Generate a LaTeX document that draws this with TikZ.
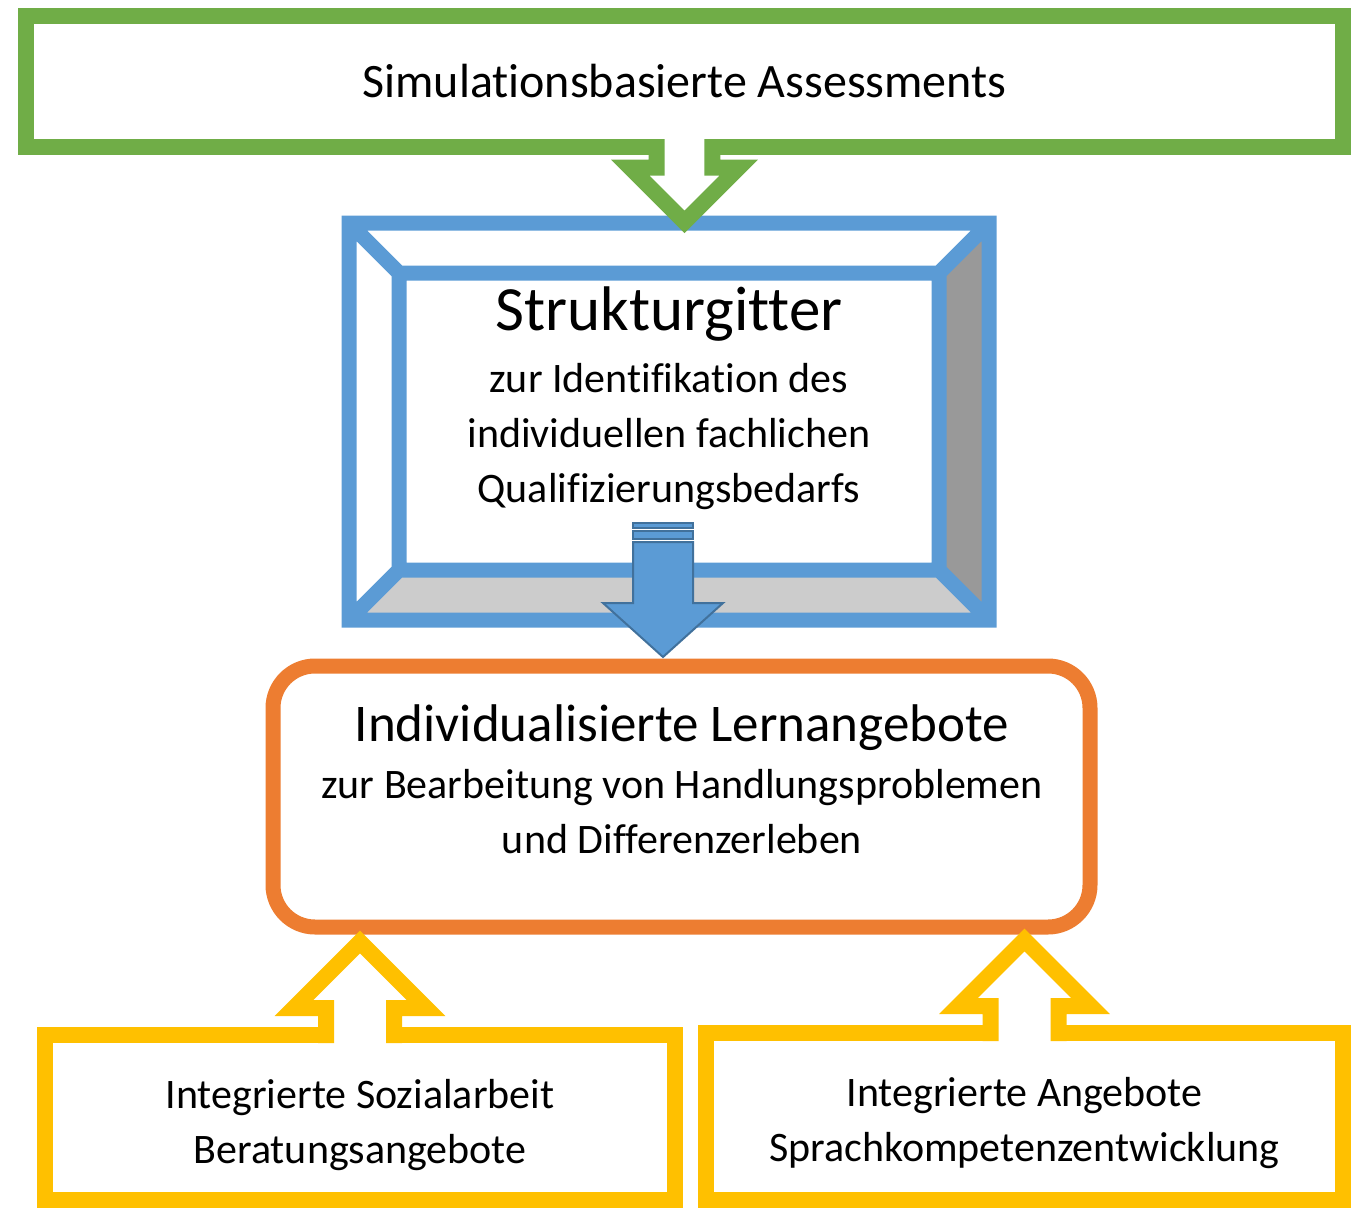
\documentclass[tikz,border=0pt]{standalone}
\usepackage{fontspec}
\setmainfont{Carlito}[Ligatures=NoCommon]
\usepackage{tikz}
\usetikzlibrary{calc}
\definecolor{assessGreen}{HTML}{70AD47}
\definecolor{gridBlue}{HTML}{5B9BD5}
\definecolor{gridEdge}{HTML}{41719C}
\definecolor{lernOrange}{HTML}{ED7D31}
\definecolor{offerYellow}{HTML}{FFC000}
\definecolor{bevelDark}{HTML}{999999}
\definecolor{bevelLight}{HTML}{CCCCCC}
\newcommand{\hollowArrow}[4]{%
	\begin{scope}[shift={(#1)},xscale=#2,yscale=#3]
		\fill[white] (-34,0) -- (-34,-35) -- (-66,-35) -- (0,-101) -- (66,-35) -- (34,-35) -- (34,0) -- cycle;
		\draw[#4,line width=16pt] (-34,0) -- (-34,-35) -- (-66,-35) -- (0,-101) -- (66,-35) -- (34,-35) -- (34,0);
	\end{scope}}

\begin{document}
\begin{tikzpicture}[x=1pt,y=-1pt,
		box/.style={draw,line width=16pt,outer sep=0pt,inner sep=0pt,fill=white},
		body/.style={align=center,font=\fontsize{42}{55}\selectfont},
		stripe/.style={fill=gridBlue,draw=gridEdge,line width=2pt}]
	\useasboundingbox (0,0) rectangle (1358,1208);
	\node[box,draw=assessGreen,minimum width=1317pt,minimum height=131pt,font=\fontsize{48}{58}\selectfont] (assess) at (684.5,81.5) {Simulationsbasierte Assessments};
	\node[minimum width=640pt,minimum height=397pt,inner sep=0pt,outer sep=0pt] (grid) at (669,421.5) {};
	\path (grid.north west) ++(50,50) coordinate (inw)
		(grid.north east) ++(-50,50) coordinate (ine)
		(grid.south east) ++(-50,-50) coordinate (ise)
		(grid.south west) ++(50,-50) coordinate (isw);
	\fill[bevelDark] (grid.north east) -- (grid.south east) -- (ise) -- (ine) -- cycle;
	\fill[bevelLight] (grid.south west) -- (grid.south east) -- (ise) -- (isw) -- cycle;
	\draw[gridBlue,line width=15pt] (grid.north west) rectangle (grid.south east) (inw) rectangle (ise)
		(grid.north west) -- (inw) (grid.north east) -- (ine) (grid.south east) -- (ise) (grid.south west) -- (isw);
	\node[font=\fontsize{63}{70}\selectfont] (gridTitle) at (669,314) {Strukturgitter};
	\node[body] (gridText) at (669,437) {zur Identifikation des\\individuellen fachlichen\\Qualifizierungsbedarfs};
	\hollowArrow{$(assess.south)+(0,-8)$}{0.82}{-0.82}{assessGreen}
	\node[box,draw=lernOrange,line width=15pt,rounded corners=42pt,minimum width=817pt,minimum height=261pt] (lernen) at (681.5,796.5) {};
	\node[font=\fontsize{53}{60}\selectfont] (lernTitle) at (682,728) {Individualisierte Lernangebote};
	\node[body] (lernText) at (682,812) {zur Bearbeitung von Handlungsproblemen\\und Differenzerleben};
	\coordinate (tip) at ($(lernen.north)+(-18.5,-9)$);
	\begin{scope}[shift={(tip)}]
		\filldraw[stripe] (-30,-134) rectangle (30,-129);
		\filldraw[stripe] (-30,-126) rectangle (30,-118);
		\filldraw[stripe] (-30,-115) -- (-30,-54) -- (-60,-54) -- (0,0) -- (60,-54) -- (30,-54) -- (30,-115) -- cycle;
	\end{scope}
	\node[box,draw=offerYellow,minimum width=630pt,minimum height=165pt] (sozial) at (360,1117.5) {};
	\node[body] (sozialText) at (360,1125) {Integrierte Sozialarbeit\\Beratungsangebote};
	\node[box,draw=offerYellow,minimum width=637pt,minimum height=167pt] (sprache) at (1024.5,1116.5) {};
	\node[body] (spracheText) at (1024.5,1123) {Integrierte Angebote\\Sprachkompetenzentwicklung};
	\hollowArrow{$(sozial.north)+(0,8)$}{1}{1}{offerYellow}
	\hollowArrow{$(sprache.north)+(0,8)$}{1}{1}{offerYellow}
\end{tikzpicture}
\end{document}
